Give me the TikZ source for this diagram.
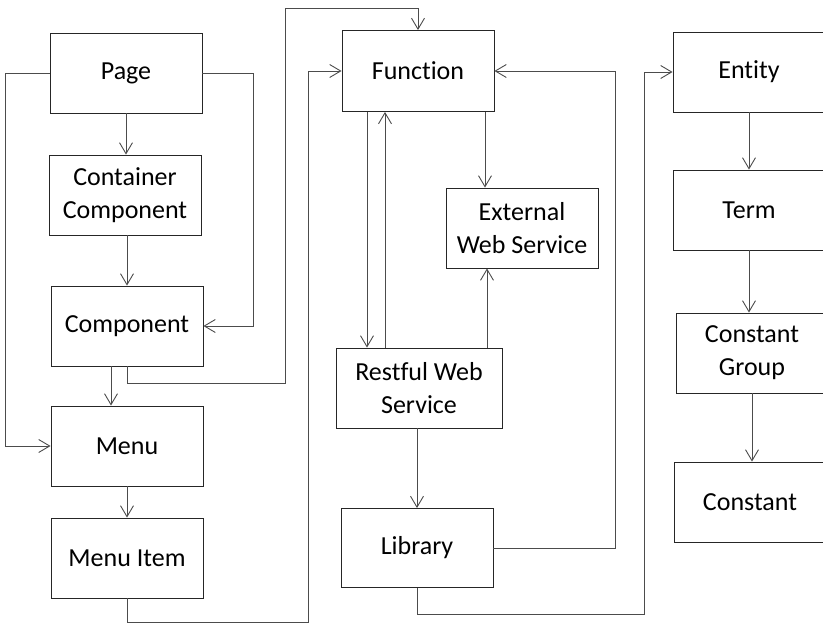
\documentclass[tikz,border=0pt]{standalone}
\usepackage{fontspec}
\setmainfont[Ligatures=NoCommon]{Carlito}
\usetikzlibrary{arrows.meta}
\begin{document}
\begin{tikzpicture}[x=1pt,y=-1pt,
  box/.style={draw=black!85,line width=0.9pt,rectangle,minimum width=152pt,minimum height=80pt,inner sep=2pt,align=center,font=\fontsize{26}{33}\selectfont},
  conn/.style={draw=black!70,line width=0.9pt},
  arr/.style={conn,-{Straight Barb[length=11pt,width=13pt,line width=0.9pt]}}]
\useasboundingbox (0,0) rectangle (823,623);
\clip (0,0) rectangle (823,623);
\node[box] (page) at (126,73) {Page};
\node[box] (cont) at (125,195) {Container\\Component};
\node[box] (comp) at (127,326) {Component};
\node[box] (menu) at (127,446) {Menu};
\node[box] (mitem) at (127,558) {Menu Item};
\node[box,minimum height=81pt] (func) at (418,71) {Func\kern0pt tion};
\node[box] (ext) at (522,228) {External\\Web Service};
\node[box,minimum width=166pt] (rest) at (419,388) {Rest\kern0pt ful Web\\Service};
\node[box,minimum height=79pt] (lib) at (417,548) {Library};
\node[box] (ent) at (749,72) {Ent\kern0pt ity};
\node[box] (term) at (749,210) {Term};
\node[box] (cg) at (752,353) {Constant\\Group};
\node[box] (const) at (750,502) {Constant};
% left column
\draw[arr] (page.south) -- (page.south |- cont.north);
\draw[arr] (cont.south -| comp.north) -- (comp.north);
\draw[arr] ([xshift=-16pt]comp.south) -- ([xshift=-16pt]comp.south |- menu.north);
\draw[arr] (menu.south) -- (mitem.north);
\draw[arr] (page.west) -- ++(-44,0) |- (menu.west);
\draw[arr] (page.east) -- ++(51,0) |- (comp.east);
\draw[arr] (comp.south) -- (127,383) -- (285,383) -- (285,8) -| (func.north);
\draw[arr] (mitem.south) -- (127,622) -- (308,622) |- (func.west);
% middle column
\draw[arr] ([xshift=-51pt]func.south) -- ([xshift=-51pt]func.south |- rest.north);
\draw[arr] ([xshift=-34pt]rest.north) -- ([xshift=-34pt]rest.north |- func.south);
\draw[arr] ([xshift=67pt]func.south) -- ([xshift=67pt]func.south |- ext.north);
\draw[arr] ([xshift=68pt]rest.north) -- ([xshift=68pt]rest.north |- ext.south);
\draw[arr] (lib.north |- rest.south) -- (lib.north);
\draw[arr] (lib.east) -- (615,548) |- (func.east);
\draw[arr] (lib.south) -- (417,614) -- (644,614) |- (ent.west);
% right column
\draw[arr] (ent.south) -- (term.north);
\draw[arr] (term.south) -- (term.south |- cg.north);
\draw[arr] (cg.south) -- (cg.south |- const.north);
\end{tikzpicture}
\end{document}
